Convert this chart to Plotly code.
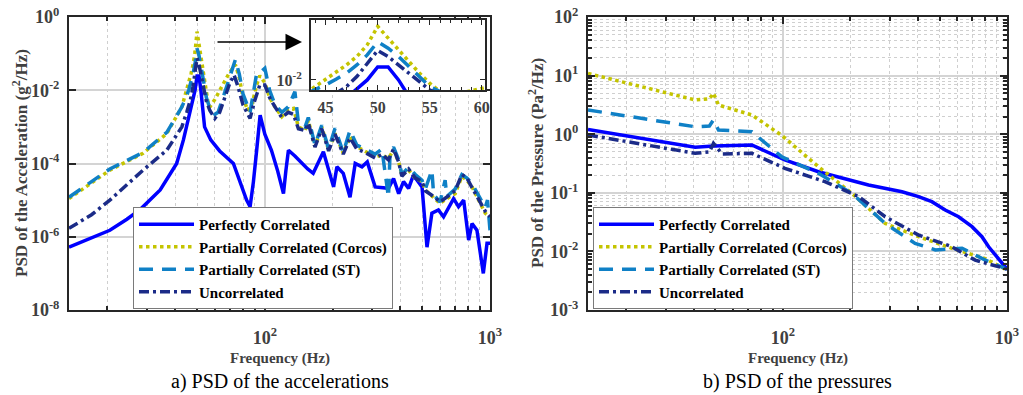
import math
import plotly.graph_objects as go

# ---------------- a) PSD of the accelerations (g^2/Hz) ----------------
acc_f_perfect = [13.5, 17.3, 20.5, 24.4, 28, 34.3, 40.6, 43.5, 47, 49, 50, 51, 52, 53, 54, 57.5,
                 63, 72.5, 77.6, 83, 86, 89, 92, 95.3, 100, 107, 114, 121, 124, 127.3, 136, 146,
                 155, 164, 172, 182, 202, 209, 223, 239, 252, 270, 285, 309, 354, 373, 393, 413,
                 435, 457, 499, 525, 552, 590, 622, 655, 689, 725, 764, 804, 832, 875, 934, 970, 1000]
acc_perfect = [5.2e-7, 9.5e-7, 1.5e-6, 3.0e-6, 5.6e-6, 1.9e-5, 1.0e-4, 4.4e-4, 2.9e-3, 1.0e-2,
               2.45e-2, 2.45e-2, 1.0e-2, 3.2e-3, 1.0e-3, 4.4e-4, 2.2e-4, 1.0e-4, 3.2e-5, 1.0e-5,
               6.6e-6, 3.2e-5, 2.3e-4, 2.1e-3, 6.3e-4, 2.3e-4, 6.3e-5, 1.5e-5, 6.3e-5, 2.3e-4,
               1.6e-4, 1.0e-4, 7.1e-5, 5.4e-5, 1.0e-4, 2.1e-4, 2.3e-5, 8.1e-5, 5.4e-5, 1.2e-5,
               1.0e-4, 8.1e-5, 1.1e-4, 2.3e-5, 2.1e-5, 3.9e-5, 1.5e-5, 3.2e-5, 2.1e-5, 4.8e-5,
               2.3e-5, 5.2e-7, 4.4e-6, 5.4e-6, 3.5e-6, 6.6e-6, 1.1e-5, 6.6e-6, 1.0e-5, 8.1e-7,
               2.3e-6, 1.5e-6, 1.0e-7, 6.6e-7, 6.6e-7]

acc_f_corcos = [13.5, 20.5, 28.8, 36.7, 42.8, 44, 45, 46, 47, 48, 49, 50, 51, 52, 53, 54, 55, 56,
                57, 60, 65, 70, 74, 77, 80, 84, 88, 92, 95, 100, 105, 111, 119, 127, 134, 141,
                151, 156, 167, 179, 192, 205, 223, 239, 256, 279, 309, 331, 354, 373, 393, 406,
                435, 466, 499, 516, 562, 600, 643, 700, 750, 790, 832, 890, 952, 1000]
acc_corcos = [1.1e-5, 6.6e-5, 1.9e-4, 6.6e-4, 3.5e-3, 6.3e-3, 1.0e-2, 1.6e-2, 2.8e-2, 5.0e-2,
              0.112, 0.40, 0.178, 7.9e-2, 3.5e-2, 1.6e-2, 7.9e-3, 4.5e-3, 3.5e-3, 5.6e-3,
              1.4e-2, 3.2e-2, 5.0e-2, 2.2e-2, 6.3e-3, 2.8e-3, 4.5e-3, 1.4e-2, 2.5e-2, 1.6e-2,
              6.3e-3, 3.5e-3, 1.9e-3, 2.9e-3, 3.2e-3, 1.0e-3, 8.1e-4, 1.5e-3, 2.9e-4, 1.0e-3,
              2.3e-4, 6.6e-4, 1.9e-4, 5.4e-4, 2.9e-4, 2.1e-4, 1.5e-4, 1.7e-4, 1.4e-4, 2.3e-4,
              1.1e-4, 4.8e-5, 6.6e-5, 3.9e-5, 3.2e-5, 1.9e-5, 1.2e-5, 8.1e-6, 1.1e-5, 1.5e-5,
              4.4e-5, 3.5e-5, 2.3e-5, 1.0e-5, 4.4e-6, 3.5e-6]

acc_f_st = [13.5, 20.5, 28.8, 36.7, 42.8, 44, 45, 46, 47, 48, 49, 50, 51, 52, 53, 54, 55, 57,
            60, 62, 66, 70, 74, 77, 80, 86, 92, 96, 100, 105, 111, 119, 127, 136, 141, 151,
            156, 167, 179, 192, 205, 223, 239, 256, 279, 309, 331, 354, 360, 373, 393, 406,
            435, 466, 499, 516, 552, 562, 600, 632, 643, 700, 750, 790, 832, 890, 952, 975, 1000]
acc_st = [1.2e-5, 7.1e-5, 2.0e-4, 7.1e-4, 3.5e-3, 5.0e-3, 7.1e-3, 1.05e-2, 1.6e-2, 2.8e-2,
          5.6e-2, 0.138, 8.9e-2, 5.0e-2, 2.5e-2, 1.26e-2, 6.3e-3, 3.2e-3, 2.2e-3, 2.5e-3,
          7.9e-3, 2.5e-2, 6.8e-2, 2.8e-2, 7.9e-3, 2.5e-3, 2.9e-2, 3.2e-2, 4.0e-2, 1.0e-2,
          4.0e-3, 2.5e-3, 3.5e-3, 9.1e-3, 1.26e-3, 1.0e-3, 1.8e-3, 3.2e-4, 1.1e-3, 2.5e-4,
          9.1e-4, 2.0e-4, 8.1e-4, 3.2e-4, 2.5e-4, 1.8e-4, 2.5e-4, 1.2e-5, 2.0e-4, 2.8e-4,
          1.26e-4, 5.0e-5, 7.9e-5, 5.0e-5, 3.5e-5, 2.0e-5, 6.6e-5, 1.4e-5, 8.9e-6, 3.5e-5,
          1.26e-5, 2.0e-5, 5.0e-5, 4.0e-5, 2.8e-5, 1.26e-5, 6.3e-6, 1.0e-5, 1.5e-6]

acc_f_uncorr = [13.5, 17, 20.5, 28.8, 36.7, 42.8, 45, 46, 47, 48, 49, 50, 51, 52, 53, 54, 55, 57,
                60, 63, 67, 70, 73, 76, 80, 86, 90, 95, 100, 105, 111, 119, 127, 134, 141, 151,
                156, 167, 179, 192, 205, 223, 239, 256, 279, 309, 331, 354, 373, 393, 406, 435,
                466, 499, 516, 562, 600, 643, 700, 750, 790, 832, 890, 952, 1000]
acc_uncorr = [1.7e-6, 4.0e-6, 1.0e-5, 6.6e-5, 2.3e-4, 1.0e-3, 2.5e-3, 4.0e-3, 6.3e-3, 1.26e-2,
              3.2e-2, 7.6e-2, 5.0e-2, 2.8e-2, 1.6e-2, 8.9e-3, 5.0e-3, 2.8e-3, 1.7e-3, 2.5e-3,
              7.9e-3, 1.6e-2, 2.6e-2, 1.26e-2, 4.0e-3, 1.7e-3, 5.0e-3, 1.4e-2, 1.4e-2, 6.3e-3,
              3.5e-3, 1.8e-3, 2.5e-3, 2.2e-3, 8.9e-4, 7.9e-4, 1.26e-3, 2.8e-4, 8.9e-4, 2.2e-4,
              6.3e-4, 1.8e-4, 5.0e-4, 2.5e-4, 2.0e-4, 1.4e-4, 1.8e-4, 1.26e-4, 2.5e-4, 1.1e-4,
              4.5e-5, 7.1e-5, 4.0e-5, 3.2e-5, 1.8e-5, 1.26e-5, 8.9e-6, 1.26e-5, 1.8e-5, 5.0e-5,
              4.0e-5, 2.2e-5, 1.0e-5, 5.0e-6, 3.5e-6]

# ---------------- b) PSD of the pressures (Pa^2/Hz) ----------------
pr_f_perfect = [13.5, 40.6, 49, 72.7, 102, 144, 241, 340, 403, 462, 530, 608, 698, 773, 828, 1000]
pr_perfect = [1.2, 0.6, 0.63, 0.655, 0.363, 0.229, 0.136, 0.104, 0.086, 0.0705, 0.051, 0.039,
              0.0264, 0.0178, 0.012, 0.005]

pr_f_corcos = [13.5, 40.6, 47, 49, 51.6, 72.7, 99, 144, 203, 286, 403, 568, 800, 1000]
pr_corcos = [10.9, 3.84, 4.0, 5.0, 3.15, 2.13, 0.95, 0.279, 0.098, 0.030, 0.0178, 0.0113, 0.0075, 0.0048]

pr_f_st = [13.5, 40.6, 47, 49, 51.6, 72.7, 99, 144, 203, 286, 389, 479, 630, 800, 1000]
pr_st = [2.59, 1.34, 1.38, 1.75, 1.18, 1.10, 0.41, 0.215, 0.098, 0.030, 0.0137, 0.0106, 0.0113, 0.0071, 0.005]

pr_f_uncorr = [13.5, 40.6, 47, 49, 53.5, 72.7, 102, 154, 218, 286, 403, 568, 721, 1000]
pr_uncorr = [0.97, 0.472, 0.50, 0.70, 0.46, 0.472, 0.262, 0.155, 0.086, 0.039, 0.019, 0.012, 0.0071, 0.005]

# ---------------- labels and axis settings ----------------
series_names = ["Perfectly Correlated", "Partially Correlated (Corcos)",
                "Partially Correlated (ST)", "Uncorrelated"]
freq_range = [13.5, 1000]
freq_ticks = [100, 1000]
freq_ticktext = ["10<sup>2</sup>", "10<sup>3</sup>"]
acc_ticks = [1e-8, 1e-6, 1e-4, 1e-2, 1]
acc_ticktext = ["10<sup>-8</sup>", "10<sup>-6</sup>", "10<sup>-4</sup>", "10<sup>-2</sup>", "10<sup>0</sup>"]
pr_ticks = [1e-3, 1e-2, 1e-1, 1, 10, 100]
pr_ticktext = ["10<sup>-3</sup>", "10<sup>-2</sup>", "10<sup>-1</sup>", "10<sup>0</sup>",
               "10<sup>1</sup>", "10<sup>2</sup>"]
zoom_f = [43.6, 60.3]
zoom_psd = [0.005, 0.62]
zoom_ticks = [45, 50, 55, 60]


def bold(s):
    return "<b>" + s + "</b>"


styles = [
    dict(color="#0000ff", width=3.5, dash="solid"),
    dict(color="#c4c400", width=3.5, dash="dot"),
    dict(color="#0f80c6", width=3.5, dash="14px,9px"),
    dict(color="#1b2b88", width=3.5, dash="10px,4px,3px,4px"),
]

FONT = "Liberation Serif, Times New Roman, serif"
AX_GRAY = "#262626"
LABEL_GRAY = "#404040"
GRID = "#d4d4d4"
MINOR_GRID = "#cfcfcf"

acc_series = [(acc_f_perfect, acc_perfect), (acc_f_corcos, acc_corcos),
              (acc_f_st, acc_st), (acc_f_uncorr, acc_uncorr)]
pr_series = [(pr_f_perfect, pr_perfect), (pr_f_corcos, pr_corcos),
             (pr_f_st, pr_st), (pr_f_uncorr, pr_uncorr)]

fig = go.Figure()

for name, (f, v), st in zip(series_names, acc_series, styles):
    fig.add_trace(go.Scatter(x=f, y=v, mode="lines", name=bold(name), line=st,
                             xaxis="x", yaxis="y", legend="legend"))

for name, (f, v), st in zip(series_names, pr_series, styles):
    fig.add_trace(go.Scatter(x=f, y=v, mode="lines", name=bold(name), line=st,
                             xaxis="x2", yaxis="y2", legend="legend2"))

# zoomed view of the first resonance: white backing, then the same curves
fig.add_trace(go.Scatter(x=[zoom_f[0], zoom_f[1], zoom_f[1], zoom_f[0], zoom_f[0]],
                         y=[zoom_psd[0], zoom_psd[0], zoom_psd[1], zoom_psd[1], zoom_psd[0]],
                         mode="lines", fill="toself", fillcolor="white",
                         line=dict(width=0, color="white"), showlegend=False,
                         hoverinfo="skip", xaxis="x3", yaxis="y3"))
for name, (f, v), st in zip(series_names, acc_series, styles):
    fig.add_trace(go.Scatter(x=f, y=v, mode="lines", name=name, line=st,
                             xaxis="x3", yaxis="y3", showlegend=False))

tickfont = dict(family=FONT, size=18, color=LABEL_GRAY)
minor_freq = [d * 10 ** e for e in (1, 2) for d in range(2, 10)]
minor_pr = [d * 10.0 ** e for e in range(-3, 2) for d in range(2, 10)]


def log_freq_axis(domain, anchor):
    return dict(type="log", domain=domain, anchor=anchor, automargin=False,
                range=[math.log10(freq_range[0]), math.log10(freq_range[1])],
                tickmode="array", tickvals=freq_ticks, ticktext=[bold(t) for t in freq_ticktext],
                ticks="inside", ticklen=7, tickwidth=1.5, tickcolor=AX_GRAY,
                showline=True, linewidth=2, linecolor=AX_GRAY, mirror="ticks",
                showgrid=True, gridcolor=GRID, gridwidth=1.5,
                tickfont=tickfont, ticklabelstandoff=10, zeroline=False,
                minor=dict(tickmode="array", tickvals=minor_freq, ticks="inside",
                           ticklen=4, tickcolor=AX_GRAY, showgrid=True,
                           gridcolor=MINOR_GRID, griddash="dot", gridwidth=1))


legend_style = dict(xanchor="left", yanchor="top", bgcolor="white",
                    bordercolor="#7a7a7a", borderwidth=1,
                    font=dict(family=FONT, size=15, color="black"),
                    tracegroupgap=0, itemwidth=55)

fig.update_layout(
    width=1023, height=395,
    margin=dict(l=0, r=0, t=0, b=0, autoexpand=False),
    paper_bgcolor="white", plot_bgcolor="white",
    font=dict(family=FONT, color="black"),
    xaxis=log_freq_axis([69 / 1023, 490 / 1023], "y"),
    yaxis=dict(type="log", domain=[85 / 395, 378 / 395], anchor="x", automargin=False,
               range=[-8, 0], tickmode="array", tickvals=acc_ticks,
               ticktext=[bold(t) for t in acc_ticktext],
               ticks="inside", ticklen=7, tickwidth=1.5, tickcolor=AX_GRAY,
               showline=True, linewidth=2, linecolor=AX_GRAY, mirror="ticks",
               showgrid=True, gridcolor=GRID, gridwidth=1.5,
               tickfont=tickfont, ticklabelstandoff=4, zeroline=False),
    xaxis2=log_freq_axis([588 / 1023, 1007 / 1023], "y2"),
    yaxis2=dict(type="log", domain=[85 / 395, 378 / 395], anchor="x2", automargin=False,
                range=[-3, 2], tickmode="array", tickvals=pr_ticks,
                ticktext=[bold(t) for t in pr_ticktext],
                ticks="inside", ticklen=7, tickwidth=1.5, tickcolor=AX_GRAY,
                showline=True, linewidth=2, linecolor=AX_GRAY, mirror="ticks",
                showgrid=True, gridcolor=GRID, gridwidth=1.5,
                tickfont=tickfont, ticklabelstandoff=4, zeroline=False,
                minor=dict(tickmode="array", tickvals=minor_pr, ticks="inside",
                           ticklen=4, tickcolor=AX_GRAY, showgrid=True,
                           gridcolor=MINOR_GRID, griddash="dot", gridwidth=1)),
    xaxis3=dict(domain=[311 / 1023, 485 / 1023], anchor="y3", range=zoom_f, automargin=False,
                tickmode="array", tickvals=zoom_ticks,
                ticktext=[bold(str(t)) for t in zoom_ticks],
                ticks="inside", ticklen=5,
                tickcolor=AX_GRAY, showline=True, linewidth=2, linecolor=AX_GRAY,
                mirror="ticks", showgrid=False, zeroline=False,
                tickfont=dict(family=FONT, size=16, color=LABEL_GRAY),
                ticklabelstandoff=2,
                minor=dict(dtick=1, ticks="inside", ticklen=3, tickcolor=AX_GRAY)),
    yaxis3=dict(type="log", domain=[305 / 395, 375 / 395], anchor="x3", automargin=False,
                range=[math.log10(zoom_psd[0]), math.log10(zoom_psd[1])],
                tickmode="array", tickvals=[1e-2], ticktext=[bold("10<sup>-2</sup>")],
                ticks="inside", ticklen=5, tickcolor=AX_GRAY, showline=True,
                linewidth=2, linecolor=AX_GRAY, mirror="ticks", showgrid=False,
                zeroline=False, ticklabelstandoff=4,
                tickfont=dict(family=FONT, size=16, color=LABEL_GRAY)),
    legend=dict(x=133 / 1023, y=1 - 207 / 395, **legend_style),
    legend2=dict(x=593 / 1023, y=1 - 207 / 395, **legend_style),
    shapes=[dict(type="rect", xref="x", yref="y",
                 x0=math.log10(zoom_f[0]), x1=math.log10(zoom_f[1]),
                 y0=math.log10(zoom_psd[0]), y1=math.log10(zoom_psd[1]),
                 line=dict(color="black", width=1.5), fillcolor="rgba(0,0,0,0)")],
)

title_font = dict(family=FONT, size=15, color=LABEL_GRAY)
ylabel_font = dict(family=FONT, size=17, color=LABEL_GRAY)
caption_font = dict(family=FONT, size=20, color="black")
annotations = [
    dict(x=(69 + 490) / 2 / 1023, y=1 - 358 / 395, text=bold("Frequency (Hz)"), font=title_font),
    dict(x=(588 + 1007) / 2 / 1023, y=1 - 358 / 395, text=bold("Frequency (Hz)"), font=title_font),
    dict(x=(69 + 490) / 2 / 1023, y=1 - 381 / 395, text="a) PSD of the accelerations", font=caption_font),
    dict(x=(588 + 1007) / 2 / 1023, y=1 - 381 / 395, text="b) PSD of the pressures", font=caption_font),
    dict(x=20 / 1023, y=1 - 163 / 395, text=bold("PSD of the Acceleration (g<sup>2</sup>/Hz)"),
         textangle=-90, font=ylabel_font),
    dict(x=536 / 1023, y=1 - 163 / 395, text=bold("PSD of the Pressure (Pa<sup>2</sup>/Hz)"),
         textangle=-90, font=ylabel_font),
]
for a in annotations:
    a.update(xref="paper", yref="paper", showarrow=False, xanchor="center", yanchor="middle")
# arrow from the zoom box to the enlarged view
annotations.append(dict(xref="paper", yref="paper", x=302 / 1023, y=1 - 42 / 395,
                        ax=-86, ay=0, text="", showarrow=True, arrowhead=2,
                        arrowsize=2.2, arrowwidth=1.5, arrowcolor="black"))
fig.update_layout(annotations=annotations)

fig.write_html("out.html")
